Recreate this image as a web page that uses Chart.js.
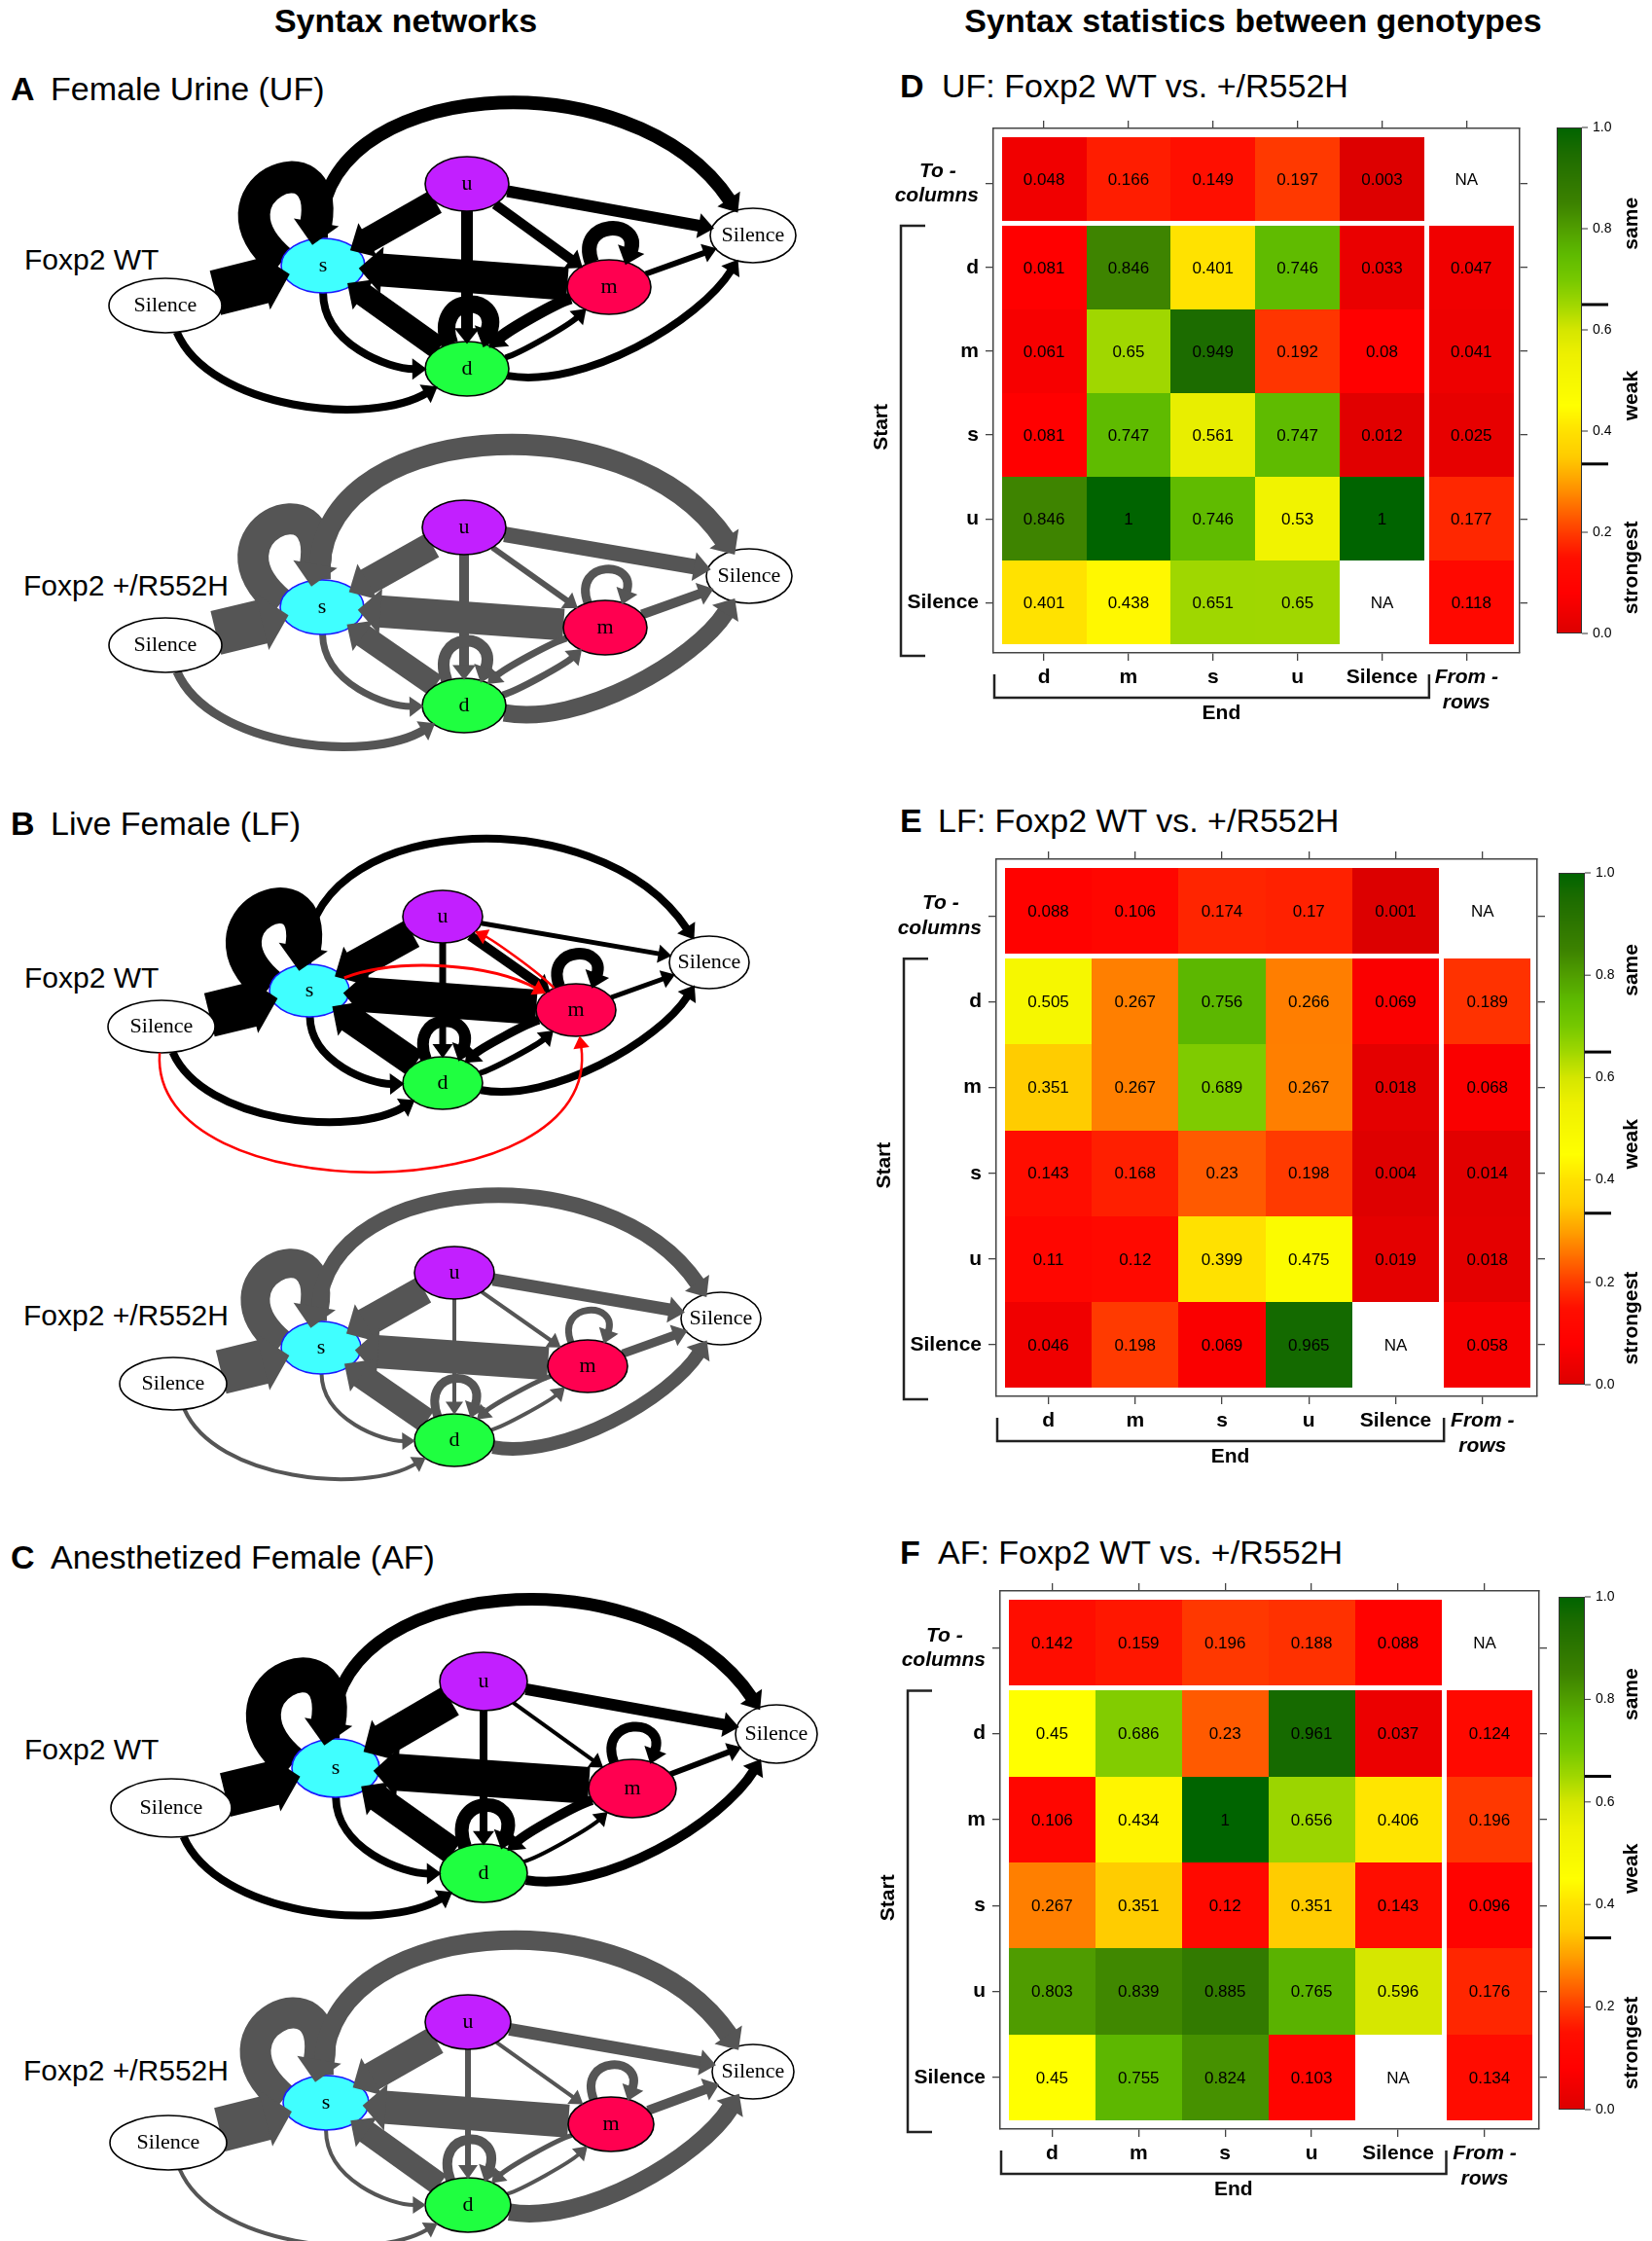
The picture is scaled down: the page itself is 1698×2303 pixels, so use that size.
<!DOCTYPE html>
<html>
<head>
<meta charset="utf-8">
<script src="https://cdn.jsdelivr.net/npm/chart.js@4/dist/chart.umd.min.js"></script>
<style>
  html, body { margin:0; padding:0; background:#fff; }
  body { position:relative; width:1698px; height:2303px; overflow:hidden; font-family:"Liberation Sans", Arial, sans-serif; color:#000; }
  .t { position:absolute; white-space:nowrap; line-height:1; transform:translateY(-50%); }
  .title { font-size:34px; font-weight:bold; transform:translate(-50%,-50%); }
  .pl { font-size:34px; font-weight:bold; }
  .pt { font-size:34px; }
  .gl { font-size:30px; }
  canvas { position:absolute; }
</style>
</head>
<body>
<div class="t title" style="left:417px;top:21px">Syntax networks</div>
<div class="t title" style="left:1288px;top:21px">Syntax statistics between genotypes</div>

<div class="t pl" style="left:11px;top:91px">A</div><div class="t pt" style="left:52px;top:91px">Female Urine (UF)</div>
<div class="t pl" style="left:11px;top:846px">B</div><div class="t pt" style="left:52px;top:846px">Live Female (LF)</div>
<div class="t pl" style="left:11px;top:1600px">C</div><div class="t pt" style="left:52px;top:1600px">Anesthetized Female (AF)</div>
<div class="t pl" style="left:925px;top:88px">D</div><div class="t pt" style="left:968px;top:88px">UF: Foxp2 WT vs. +/R552H</div>
<div class="t pl" style="left:925px;top:843px">E</div><div class="t pt" style="left:964px;top:843px">LF: Foxp2 WT vs. +/R552H</div>
<div class="t pl" style="left:925px;top:1595px">F</div><div class="t pt" style="left:964px;top:1595px">AF: Foxp2 WT vs. +/R552H</div>

<div class="t gl" style="left:25px;top:267px">Foxp2 WT</div>
<div class="t gl" style="left:24px;top:602px">Foxp2 +/R552H</div>
<div class="t gl" style="left:25px;top:1005px">Foxp2 WT</div>
<div class="t gl" style="left:24px;top:1352px">Foxp2 +/R552H</div>
<div class="t gl" style="left:25px;top:1798px">Foxp2 WT</div>
<div class="t gl" style="left:24px;top:2128px">Foxp2 +/R552H</div>

<script>
// ======================= DATA =======================
// ---- syntax networks ----
const NODE_LABELS = ['Silence', 's', 'u', 'm', 'd', 'Silence'];
// edges: from -> to (node indices)
const EDGE_FROM = [0, 1, 2, 3, 4, 1, 0, 1, 2, 2, 2, 4, 3, 3, 3, 4, 4];
const EDGE_TO   = [1, 1, 1, 1, 1, 4, 4, 5, 5, 3, 4, 4, 3, 5, 4, 3, 5];
const RED_EDGE_FROM = [1, 3, 0];
const RED_EDGE_TO   = [3, 2, 3];

// node layout (network coordinates)
const UF_WT_NODE_X = [170, 332, 480, 626, 480, 774];
const UF_WT_NODE_Y = [224, 183, 99, 205, 289, 152];
const UF_MUT_NODE_X = [170, 331, 477, 622, 477, 770];
const UF_MUT_NODE_Y = [233, 194, 112, 215, 295, 162];
const LF_WT_NODE_X = [166, 318, 455, 592, 455, 729];
const LF_WT_NODE_Y = [190, 153, 77, 173, 248, 124];
const LF_MUT_NODE_X = [178, 330, 467, 604, 467, 741];
const LF_MUT_NODE_Y = [207, 170, 93, 189, 265, 140];
const AF_WT_NODE_X = [176, 345, 497, 650, 497, 798];
const AF_WT_NODE_Y = [218, 177, 88, 198, 285, 142];
const AF_MUT_NODE_X = [173, 335, 481, 628, 481, 774];
const AF_MUT_NODE_Y = [227, 186, 103, 208, 291, 154];

// edge weights (drawn as line widths), same order as EDGE_FROM / EDGE_TO
const UF_WT_WEIGHT  = [47, 33, 26, 34, 24, 8, 8, 14, 12, 10, 12, 18, 15, 6, 12, 6, 8];
const UF_MUT_WEIGHT = [46, 32, 28, 33, 24, 7, 9, 22, 16, 6, 10, 12, 9, 10, 7, 7, 18];
const LF_WT_WEIGHT  = [46, 37, 31, 36, 29, 8, 8, 8, 5, 10, 7, 12, 12, 5, 9, 6, 8];
const LF_WT_RED_WEIGHT = [3, 2.5, 2.5];
const LF_MUT_WEIGHT = [46, 30, 30, 34, 26, 4, 4, 16, 13, 4, 4, 9, 7, 9, 5, 4, 14];
const AF_WT_WEIGHT  = [46, 36, 34, 38, 28, 8, 8, 13, 12, 4, 8, 14, 10, 6, 10, 4, 10];
const AF_MUT_WEIGHT = [46, 32, 30, 34, 24, 4, 4, 20, 13, 4, 6, 10, 9, 10, 5, 4, 18];

// ---- syntax statistics heatmaps ----
const END_CATEGORIES = ['d', 'm', 's', 'u', 'Silence'];
const START_CATEGORIES = ['d', 'm', 's', 'u', 'Silence'];
const X_TICK_LABELS = ['d', 'm', 's', 'u', 'Silence', ['From -', 'rows']];
const Y_TICK_LABELS = [['To -    ', 'columns'], 'd', 'm', 's', 'u', 'Silence'];

const UF_TO_COLUMNS = [0.048, 0.166, 0.149, 0.197, 0.003];
const UF_FROM_ROWS  = [0.047, 0.041, 0.025, 0.177, 0.118];
const UF_START_END = [
  [0.081, 0.846, 0.401, 0.746, 0.033],
  [0.061, 0.65, 0.949, 0.192, 0.08],
  [0.081, 0.747, 0.561, 0.747, 0.012],
  [0.846, 1, 0.746, 0.53, 1],
  [0.401, 0.438, 0.651, 0.65, null]
];
const LF_TO_COLUMNS = [0.088, 0.106, 0.174, 0.17, 0.001];
const LF_FROM_ROWS  = [0.189, 0.068, 0.014, 0.018, 0.058];
const LF_START_END = [
  [0.505, 0.267, 0.756, 0.266, 0.069],
  [0.351, 0.267, 0.689, 0.267, 0.018],
  [0.143, 0.168, 0.23, 0.198, 0.004],
  [0.11, 0.12, 0.399, 0.475, 0.019],
  [0.046, 0.198, 0.069, 0.965, null]
];
const AF_TO_COLUMNS = [0.142, 0.159, 0.196, 0.188, 0.088];
const AF_FROM_ROWS  = [0.124, 0.196, 0.096, 0.176, 0.134];
const AF_START_END = [
  [0.45, 0.686, 0.23, 0.961, 0.037],
  [0.106, 0.434, 1, 0.656, 0.406],
  [0.267, 0.351, 0.12, 0.351, 0.143],
  [0.803, 0.839, 0.885, 0.765, 0.596],
  [0.45, 0.755, 0.824, 0.103, null]
];
const CB_TICKS = [0, 0.2, 0.4, 0.6, 0.8, 1.0];
const CB_MARKS = [0.335, 0.65];
const CB_WORDS = ['same', 'weak', 'strongest'];

// ======================= STYLE / DRAWING =======================
const SANS = '"Liberation Sans", Arial, sans-serif';
const SERIF = '"Liberation Serif", "Times New Roman", serif';
const NODE_FILL = ['#ffffff', '#40ffff', '#c21fff', '#ff0050', '#1fff40', '#ffffff'];
const CB_WORD_POS = [0.81, 0.47, 0.13];
const CMAP_STOPS = [
  [0.00,220,0,0],[0.08,255,0,0],[0.15,255,15,0],[0.20,255,60,0],[0.25,255,110,0],
  [0.30,255,160,0],[0.35,255,204,0],[0.40,255,225,0],[0.45,255,255,0],[0.55,238,240,0],
  [0.60,212,230,0],[0.65,160,215,0],[0.70,118,200,0],[0.75,94,186,0],[0.80,80,158,0],
  [0.85,60,130,0],[0.90,45,118,0],[0.95,28,108,0],[1.00,0,100,0]];
function colorFor(v) {
  v = Math.max(0, Math.min(1, v));
  for (let i = 1; i < CMAP_STOPS.length; i++) {
    const a = CMAP_STOPS[i-1], b = CMAP_STOPS[i];
    if (v <= b[0]) {
      const t = (v - a[0]) / (b[0] - a[0]);
      return 'rgb(' + Math.round(a[1]+(b[1]-a[1])*t) + ',' + Math.round(a[2]+(b[2]-a[2])*t) + ',' + Math.round(a[3]+(b[3]-a[3])*t) + ')';
    }
  }
  return 'rgb(0,100,0)';
}

// edge curve shapes (style): c = [t1,h1,t2,h2] control points along chord / normal
const EDGE_SHAPE = [
  {},                                                   // Silence -> s
  {loop:true, a0:185, a1:250, th1:220, th2:280, k:2.6}, // s -> s
  {}, {}, {},                                           // u->s, m->s, d->s
  {c:[0.26, 0.36, 0.64, 0.26]},                         // s -> d
  {c:[0.21, 0.30, 0.73, 0.25]},                         // Silence -> d
  {c:[0.0, -0.44, 0.75, -0.44]},                        // s -> Silence
  {},                                                   // u -> Silence
  {}, {},                                               // u->m, u->d
  {loop:true, a0:235, a1:305, th1:250, th2:290, k:1.3}, // d -> d
  {loop:true, a0:235, a1:305, th1:250, th2:290, k:1.1}, // m -> m
  {},                                                   // m -> Silence
  {c:[0.33, 0.08, 0.67, 0.08]},                         // m -> d
  {c:[0.33, 0.08, 0.67, 0.08]},                         // d -> m
  {c:[0.31, 0.215, 0.73, 0.175]}                        // d -> Silence
];
const RED_SHAPE = [
  {c:[0.33, -0.15, 0.67, -0.15]},
  {c:[0.33, 0.06, 0.67, 0.06]},
  {c:[-0.05, 0.45, 1.05, 0.49]}
];

function bnd(c, r, dx, dy) {
  const L = Math.hypot(dx, dy) || 1; dx /= L; dy /= L;
  const t = 1 / Math.sqrt(dx*dx/(r.rx*r.rx) + dy*dy/(r.ry*r.ry));
  return {x: c.x + dx*t, y: c.y + dy*t};
}
function edgeGeom(A, B, rA, rB, sh, w) {
  let P0, C1, C2, P3, straight = false, ux, uy;
  const rad = Math.PI / 180;
  if (sh.loop) {
    P0 = bnd(A, rA, Math.cos(sh.a0*rad), Math.sin(sh.a0*rad));
    P3 = bnd(A, rA, Math.cos(sh.a1*rad), Math.sin(sh.a1*rad));
    const k = sh.k * rA.rx;
    C1 = {x: P0.x + k*Math.cos(sh.th1*rad), y: P0.y + k*Math.sin(sh.th1*rad)};
    C2 = {x: P3.x + k*Math.cos(sh.th2*rad), y: P3.y + k*Math.sin(sh.th2*rad)};
    ux = P3.x - C2.x; uy = P3.y - C2.y;
  } else if (!sh.c) {
    straight = true;
    P0 = bnd(A, rA, B.x - A.x, B.y - A.y);
    P3 = bnd(B, rB, A.x - B.x, A.y - B.y);
    ux = B.x - A.x; uy = B.y - A.y;
  } else {
    const dx = B.x - A.x, dy = B.y - A.y, L = Math.hypot(dx, dy), nx = -dy/L, ny = dx/L;
    const c = sh.c;
    C1 = {x: A.x + dx*c[0] + nx*c[1]*L, y: A.y + dy*c[0] + ny*c[1]*L};
    C2 = {x: A.x + dx*c[2] + nx*c[3]*L, y: A.y + dy*c[2] + ny*c[3]*L};
    P0 = bnd(A, rA, C1.x - A.x, C1.y - A.y);
    P3 = bnd(B, rB, C2.x - B.x, C2.y - B.y);
    ux = P3.x - C2.x; uy = P3.y - C2.y;
  }
  const ul = Math.hypot(ux, uy) || 1; ux /= ul; uy /= ul;
  const La = 12 + 0.35*w, Ha = 7 + 0.5*w, pen = Math.min(0.2*w, 6);
  const tip = {x: P3.x + ux*pen, y: P3.y + uy*pen};
  const base = {x: tip.x - ux*La, y: tip.y - uy*La};
  const head = [tip, {x: base.x - uy*Ha, y: base.y + ux*Ha}, {x: base.x + uy*Ha, y: base.y - ux*Ha}];
  const end = {x: base.x + ux*2, y: base.y + uy*2};
  return {P0, C1, C2, end, head, straight};
}

const NET_DEFS = {};
const netPlugin = {
  id: 'net',
  afterDatasetsDraw(chart) {
    const o = NET_DEFS[chart.canvas.id];
    const ctx = chart.ctx;
    const xs = chart.scales.x, ys = chart.scales.y;
    const sx = Math.abs(xs.getPixelForValue(1) - xs.getPixelForValue(0));
    const sy = Math.abs(ys.getPixelForValue(1) - ys.getPixelForValue(0));
    const pts = chart.getDatasetMeta(0).data.map(p => ({x: p.x, y: p.y}));
    const radii = pts.map((p, i) => ({rx: (i === 0 ? o.rxS : i === 5 ? o.rxE : o.rx) * sx, ry: o.ry * sy}));
    ctx.save();
    ctx.lineCap = 'butt'; ctx.lineJoin = 'round';
    const shafts = (from, to, weights, shapes, color) => {
      const heads = [];
      from.forEach((a, i) => {
        const b = to[i], w = weights[i] * sx;
        const g = edgeGeom(pts[a], pts[b], radii[a], radii[b], shapes[i], w);
        ctx.beginPath();
        ctx.moveTo(g.P0.x, g.P0.y);
        if (g.straight) ctx.lineTo(g.end.x, g.end.y);
        else ctx.bezierCurveTo(g.C1.x, g.C1.y, g.C2.x, g.C2.y, g.end.x, g.end.y);
        ctx.lineWidth = w; ctx.strokeStyle = color; ctx.stroke();
        heads.push(g.head);
      });
      return heads;
    };
    const drawHeads = (heads, color) => {
      ctx.fillStyle = color;
      heads.forEach(h => { ctx.beginPath(); ctx.moveTo(h[0].x, h[0].y); ctx.lineTo(h[1].x, h[1].y); ctx.lineTo(h[2].x, h[2].y); ctx.closePath(); ctx.fill(); });
    };
    const heads = shafts(EDGE_FROM, EDGE_TO, o.weights, EDGE_SHAPE, o.color);
    pts.forEach((p, i) => {
      ctx.beginPath(); ctx.ellipse(p.x, p.y, radii[i].rx, radii[i].ry, 0, 0, Math.PI*2);
      ctx.fillStyle = NODE_FILL[i]; ctx.fill();
      ctx.lineWidth = 1.6; ctx.strokeStyle = i === 1 ? '#1a1aff' : '#000'; ctx.stroke();
    });
    drawHeads(heads, o.color);
    if (o.red) {
      const rh = shafts(RED_EDGE_FROM, RED_EDGE_TO, o.red, RED_SHAPE, '#ff0000');
      drawHeads(rh, '#ff0000');
    }
    ctx.fillStyle = '#000'; ctx.textAlign = 'center'; ctx.textBaseline = 'middle';
    ctx.font = '22px ' + SERIF;
    pts.forEach((p, i) => ctx.fillText(NODE_LABELS[i], p.x, p.y));
    ctx.restore();
  }
};

function mkCanvas(id, left, top, w, h) {
  const cv = document.createElement('canvas');
  cv.id = id; cv.width = w; cv.height = h;
  cv.style.left = left + 'px'; cv.style.top = top + 'px';
  cv.style.width = w + 'px'; cv.style.height = h + 'px';
  document.body.appendChild(cv);
  return cv;
}

const NET_PAD = 40;
function makeNet(def) {
  NET_DEFS[def.id] = def;
  const cv = mkCanvas(def.id, 0, def.top - NET_PAD, 860, def.h + 2*NET_PAD);
  new Chart(cv, {
    type: 'scatter',
    data: {datasets: [{data: def.nx.map((x, i) => ({x: x, y: def.ny[i]})), pointRadius: 0, pointHoverRadius: 0}]},
    options: {
      responsive: false, animation: false, events: [], layout: {padding: 0},
      plugins: {legend: {display: false}, tooltip: {enabled: false}},
      scales: {
        x: {type: 'linear', display: false, min: 0, max: 860},
        y: {type: 'linear', display: false, min: -NET_PAD, max: def.h + NET_PAD, reverse: true}
      }
    },
    plugins: [netPlugin]
  });
}

makeNet({id:'netA1', top:90,   h:345, nx:UF_WT_NODE_X,  ny:UF_WT_NODE_Y,  weights:UF_WT_WEIGHT,  color:'#000', rx:43, ry:28, rxS:58, rxE:44});
makeNet({id:'netA2', top:430,  h:345, nx:UF_MUT_NODE_X, ny:UF_MUT_NODE_Y, weights:UF_MUT_WEIGHT, color:'#555', rx:43, ry:28, rxS:58, rxE:44});
makeNet({id:'netB1', top:865,  h:345, nx:LF_WT_NODE_X,  ny:LF_WT_NODE_Y,  weights:LF_WT_WEIGHT,  color:'#000', rx:41, ry:27, rxS:55, rxE:41, red:LF_WT_RED_WEIGHT});
makeNet({id:'netB2', top:1215, h:300, nx:LF_MUT_NODE_X, ny:LF_MUT_NODE_Y, weights:LF_MUT_WEIGHT, color:'#555', rx:41, ry:27, rxS:55, rxE:41});
makeNet({id:'netC1', top:1640, h:340, nx:AF_WT_NODE_X,  ny:AF_WT_NODE_Y,  weights:AF_WT_WEIGHT,  color:'#000', rx:45, ry:30, rxS:62, rxE:42});
makeNet({id:'netC2', top:1975, h:328, nx:AF_MUT_NODE_X, ny:AF_MUT_NODE_Y, weights:AF_MUT_WEIGHT, color:'#555', rx:44, ry:28, rxS:60, rxE:42});

// ---------------- heatmaps ----------------
const GAP = 5;
const HEAT_DEFS = {};
const heatPlugin = {
  id: 'heat',
  beforeDatasetsDraw(chart) {
    const ctx = chart.ctx;
    const xs = chart.scales.x, ys = chart.scales.y;
    const cw = Math.abs(xs.getPixelForValue(1) - xs.getPixelForValue(0));
    const ch = Math.abs(ys.getPixelForValue(1) - ys.getPixelForValue(0));
    const data = chart.data.datasets[0].data;
    const meta = chart.getDatasetMeta(0);
    ctx.save();
    meta.data.forEach((pt, i) => {
      const d = data[i];
      const cx = pt.x + ((d.x === 5 && d.y > 0) ? GAP : 0);
      const cy = pt.y + (d.y === 0 ? -GAP : 0);
      if (d.v !== null) {
        const x0 = Math.round(cx - cw/2), x1 = Math.round(cx + cw/2);
        const y0 = Math.round(cy - ch/2), y1 = Math.round(cy + ch/2);
        ctx.fillStyle = colorFor(d.v);
        ctx.fillRect(x0, y0, x1 - x0, y1 - y0);
      }
    });
    ctx.fillStyle = '#000'; ctx.font = '17px ' + SANS; ctx.textAlign = 'center'; ctx.textBaseline = 'middle';
    meta.data.forEach((pt, i) => {
      const d = data[i];
      const cx = pt.x + ((d.x === 5 && d.y > 0) ? GAP : 0);
      const cy = pt.y + (d.y === 0 ? -GAP : 0);
      ctx.fillText(d.v === null ? 'NA' : String(d.v), cx, cy + 1);
    });
    ctx.restore();
  },
  afterDraw(chart) {
    const g = HEAT_DEFS[chart.canvas.id];
    const ctx = chart.ctx, ca = chart.chartArea;
    const xs = chart.scales.x, ys = chart.scales.y;
    ctx.save();
    // colour key
    const [x0, x1, y0, y1] = g.cb;
    for (let y = y0; y < y1; y++) {
      ctx.fillStyle = colorFor((y1 - (y + 0.5)) / (y1 - y0));
      ctx.fillRect(x0, y, x1 - x0, 1);
    }
    ctx.strokeStyle = '#333'; ctx.lineWidth = 1;
    ctx.strokeRect(x0 + 0.5, y0 + 0.5, x1 - x0 - 1, y1 - y0 - 1);
    ctx.font = '14px ' + SANS; ctx.fillStyle = '#000'; ctx.textAlign = 'left'; ctx.textBaseline = 'middle';
    CB_TICKS.forEach(v => {
      const y = y1 - v*(y1 - y0);
      ctx.beginPath(); ctx.moveTo(x1, y); ctx.lineTo(x1 + 6, y); ctx.lineWidth = 1; ctx.strokeStyle = '#333'; ctx.stroke();
      ctx.fillText(v.toFixed(1), x1 + 11, y);
    });
    CB_MARKS.forEach(v => {
      const y = y1 - v*(y1 - y0);
      ctx.beginPath(); ctx.moveTo(x1, y); ctx.lineTo(x1 + 27, y); ctx.lineWidth = 3; ctx.strokeStyle = '#000'; ctx.stroke();
    });
    ctx.font = 'bold 21px ' + SANS; ctx.textAlign = 'center';
    CB_WORDS.forEach((w, i) => {
      const y = y1 - CB_WORD_POS[i]*(y1 - y0);
      ctx.save(); ctx.translate(797, y); ctx.rotate(-Math.PI/2); ctx.fillText(w, 0, 0); ctx.restore();
    });
    // Start bracket
    ctx.strokeStyle = '#222'; ctx.lineWidth = 2.5;
    const bx = ca.left - 95, byT = ys.getPixelForValue(0.5), byB = ca.bottom + 3;
    ctx.beginPath(); ctx.moveTo(bx + 25, byT); ctx.lineTo(bx, byT); ctx.lineTo(bx, byB); ctx.lineTo(bx + 25, byB); ctx.stroke();
    ctx.save(); ctx.translate(ca.left - 115, (byT + byB)/2 - 14); ctx.rotate(-Math.PI/2); ctx.fillText('Start', 0, 0); ctx.restore();
    // End bracket
    const ey = ca.bottom + 46, exL = ca.left + 1, exR = xs.getPixelForValue(4.5) + 5;
    ctx.beginPath(); ctx.moveTo(exL, ey - 24); ctx.lineTo(exL, ey); ctx.lineTo(exR, ey); ctx.lineTo(exR, ey - 24); ctx.stroke();
    ctx.fillText('End', (exL + exR)/2 + 10, ca.bottom + 62);
    ctx.restore();
  }
};

function makeHeat(id, g, toCols, matrix, fromRows) {
  HEAT_DEFS[id] = g;
  const cv = mkCanvas(id, 880, g.top, 818, g.h);
  const cells = [];
  toCols.forEach((v, c) => cells.push({x: c, y: 0, v: v}));
  cells.push({x: 5, y: 0, v: null});
  matrix.forEach((row, r) => row.forEach((v, c) => cells.push({x: c, y: r + 1, v: v})));
  fromRows.forEach((v, r) => cells.push({x: 5, y: r + 1, v: v}));
  const fontFor = (italicIdx) => (c) => ({family: SANS, size: 21, weight: 'bold', style: c.index === italicIdx ? 'italic' : 'normal', lineHeight: 1.2});
  const grid = {drawOnChartArea: false, drawTicks: true, tickLength: 8, color: '#444', lineWidth: 1.3};
  const border = {display: true, color: '#444', width: 1.5};
  const setTicks = a => { a.ticks = X_TICK_LABELS.map((_, i) => ({value: i})); };
  new Chart(cv, {
    type: 'scatter',
    data: {datasets: [{data: cells, pointRadius: 0, pointHoverRadius: 0}]},
    options: {
      responsive: false, animation: false, events: [], layout: {padding: 0},
      plugins: {legend: {display: false}, tooltip: {enabled: false}},
      scales: {
        x: {type: 'linear', position: 'bottom', min: -0.6, max: 5.63, afterBuildTicks: setTicks,
            afterFit: s => { s.height = g.b; }, grid: grid, border: border,
            ticks: {callback: (v, i) => X_TICK_LABELS[i], font: fontFor(5), color: '#000', padding: 5, maxRotation: 0, minRotation: 0, autoSkip: false}},
        x2: {type: 'linear', position: 'top', min: -0.6, max: 5.63, afterBuildTicks: setTicks,
            afterFit: s => { s.height = g.t; }, grid: grid, border: border, ticks: {display: false}},
        y: {type: 'linear', position: 'left', reverse: true, min: -0.66, max: 5.6, afterBuildTicks: setTicks,
            afterFit: s => { s.width = g.l; }, grid: grid, border: border,
            ticks: {callback: (v, i) => Y_TICK_LABELS[i], font: fontFor(0), color: '#000', padding: 7, autoSkip: false}},
        y2: {type: 'linear', position: 'right', reverse: true, min: -0.66, max: 5.6, afterBuildTicks: setTicks,
            afterFit: s => { s.width = g.r; }, grid: grid, border: border, ticks: {display: false}}
      }
    },
    plugins: [heatPlugin]
  });
}

makeHeat('heatD', {top:100,  h:660, l:141, t:32, r:136, b:89,  cb:[720, 746, 31, 551]}, UF_TO_COLUMNS, UF_START_END, UF_FROM_ROWS);
makeHeat('heatE', {top:860,  h:660, l:144, t:23, r:118, b:85,  cb:[722, 749, 37, 563]}, LF_TO_COLUMNS, LF_START_END, LF_FROM_ROWS);
makeHeat('heatF', {top:1610, h:680, l:148, t:25, r:116, b:102, cb:[722, 749, 31, 558]}, AF_TO_COLUMNS, AF_START_END, AF_FROM_ROWS);
</script>
</body>
</html>
